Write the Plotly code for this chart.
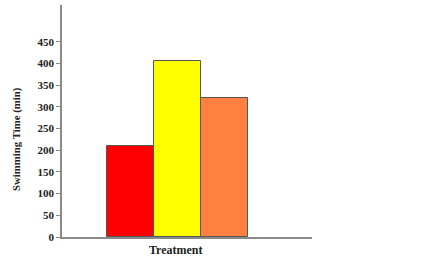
import plotly.graph_objects as go

treatments = ["A", "B", "C"]
swim_times = [210, 405, 320]
bar_colors = ["#FF0000", "#FFFF00", "#FF8040"]
y_ticks = [0, 50, 100, 150, 200, 250, 300, 350, 400, 450]
x_positions = [1, 2, 3]
x_label = "Treatment"
y_label = "Swimming Time (min)"

fig = go.Figure()
fig.add_trace(go.Bar(
    x=x_positions, y=swim_times, width=[1, 1, 1],
    marker=dict(color=bar_colors, line=dict(color="#555555", width=1)),
    showlegend=False,
))

font_serif = "Liberation Serif, Times New Roman, serif"
W, H = 441, 256
ML, MR, MT, MB = 62, 129, 5, 19
pw, ph = W - ML - MR, H - MT - MB


def px_to_paper(px, py):
    return (px - ML) / pw, (H - MB - py) / ph


ax_x, ax_y = px_to_paper(16, 139)
tx_x, tx_y = px_to_paper(176, 250)

fig.update_layout(
    width=W, height=H,
    margin=dict(l=ML, r=MR, t=MT, b=MB, autoexpand=False),
    paper_bgcolor="white", plot_bgcolor="white",
    bargap=0,
    xaxis=dict(
        range=[-0.46, 4.86], showgrid=False, zeroline=False,
        showline=True, linecolor="#8a8a8a", linewidth=1.5,
        showticklabels=False, ticks="", automargin=False,
        fixedrange=True,
    ),
    yaxis=dict(
        range=[0, 535], showgrid=False, zeroline=False,
        showline=True, linecolor="#8a8a8a", linewidth=1.5,
        tickvals=y_ticks, ticktext=[f"<b>{v}</b>" for v in y_ticks],
        ticks="outside", ticklen=4, tickcolor="#8a8a8a", tickwidth=1,
        automargin=False,
        tickfont=dict(family=font_serif, size=11, color="#222222"),
    ),
    annotations=[
        dict(
            text=f"<b>{y_label}</b>", textangle=-90,
            x=ax_x, y=ax_y, xref="paper", yref="paper", showarrow=False,
            xanchor="center", yanchor="middle",
            font=dict(family=font_serif, size=10.8, color="#222222"),
        ),
        dict(
            text=f"<b>{x_label}</b>",
            x=tx_x, y=tx_y, xref="paper", yref="paper", showarrow=False,
            xanchor="center", yanchor="middle",
            font=dict(family=font_serif, size=12, color="#222222"),
        ),
    ],
)

fig.write_html(
    "out.html",
    config={"displayModeBar": False},
    post_script="document.body.style.margin='0';document.body.style.overflow='hidden';",
)
